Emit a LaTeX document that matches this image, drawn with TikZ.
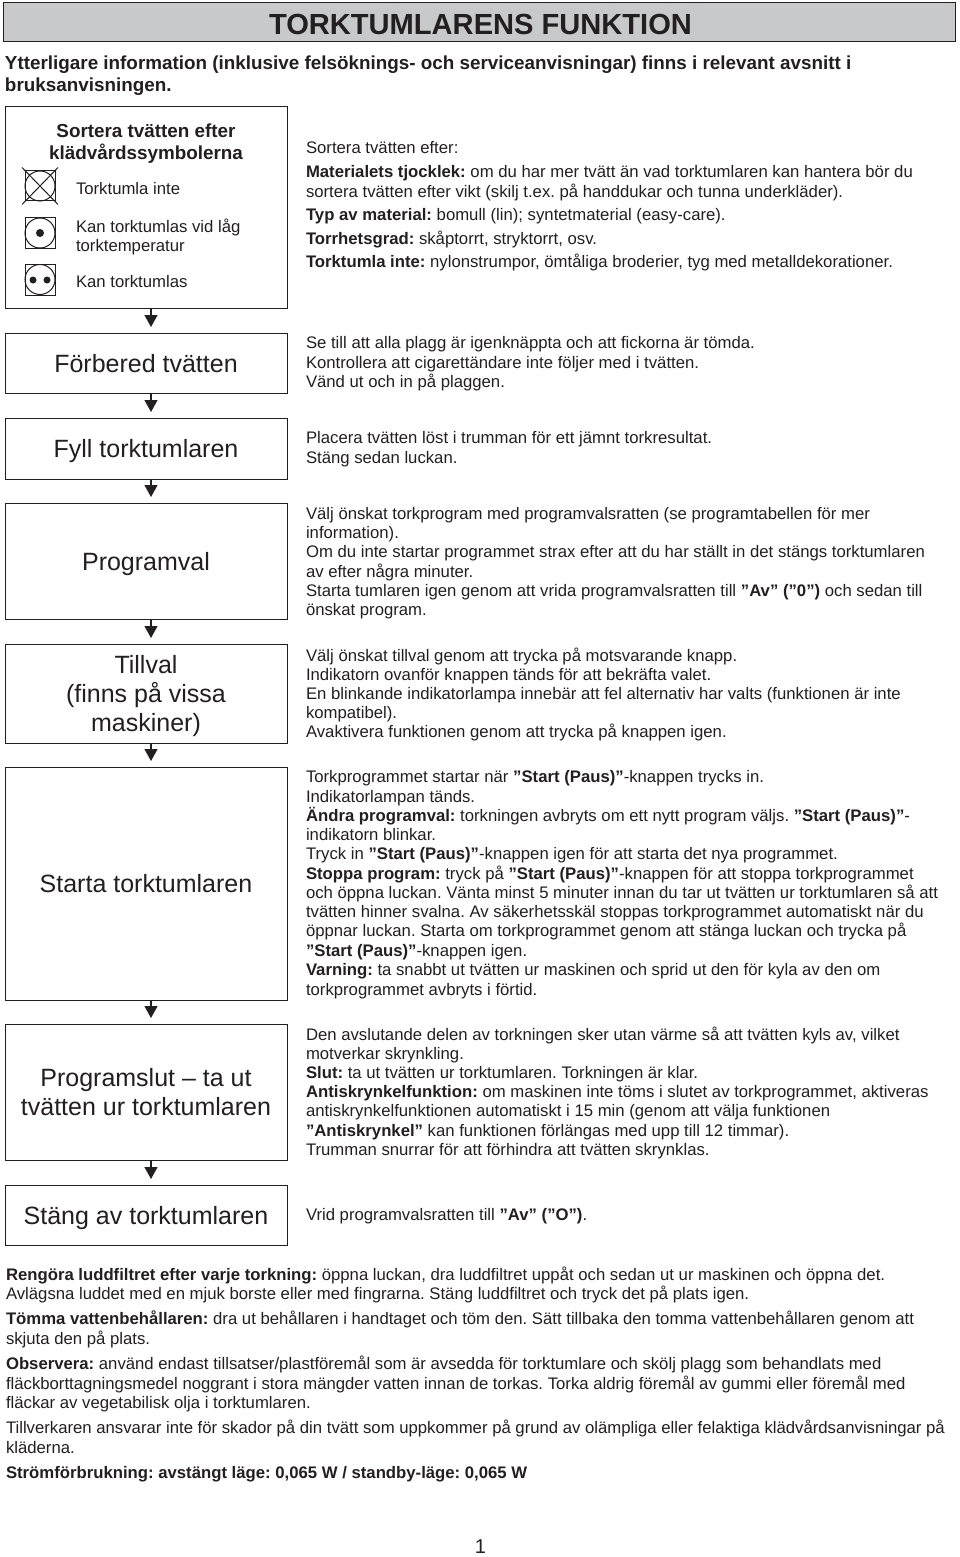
\documentclass[tikz,border=0pt]{standalone}
\usepackage{fontspec}
\setmainfont{Liberation Sans}
\usetikzlibrary{arrows.meta}
\frenchspacing
\definecolor{ink}{HTML}{231F20}
\definecolor{titlegray}{HTML}{C8C9CA}
\newcommand{\fsb}{\fontsize{16.72}{19}\selectfont}
\newcommand{\fsbox}{\fontsize{25}{29}\selectfont}
\newcommand{\fsh}{\bfseries\fontsize{18.85}{22}\selectfont}
\tikzset{
  x=1pt,y=-1pt,
  every node/.style={text=ink,inner sep=0pt,outer sep=0pt},
  line/.style={anchor=base west,font=\fsb},
  intro/.style={anchor=base west,font=\fsh},
  flowbox/.style={draw=ink,line width=1pt,minimum width=282pt,anchor=north west},
  flowtext/.style={anchor=base,font=\fsbox},
  flow/.style={draw=ink,line width=1.2pt,-{Triangle[length=12pt,width=13pt]},shorten >=6pt},
  sym/.style={draw=ink,line width=1pt},
}
\newcommand{\boxh}[3]{\node[flowbox,minimum height=#3pt] (#1) at (5,#2) {};}
\newcommand{\BT}[3]{\node[flowtext] (#1) at (146,#2) {#3};}
\newcommand{\TL}[4]{\node[line] (#1) at (#2,#3) {#4};}
\begin{document}
\begin{tikzpicture}
\useasboundingbox (0,0) rectangle (960,1557);
\fill[white] (0,0) rectangle (960,1557);
\node[draw=ink,line width=1pt,fill=titlegray,minimum width=952pt,minimum height=39pt,anchor=north west] (title) at (3,3) {};
\node[anchor=base,font=\bfseries\fontsize{29.1}{30}\selectfont] (titletext) at (480.5,35) {TORKTUMLARENS FUNKTION};
\node[intro] (i1) at (5,69.5) {Ytterligare information (inklusive felsöknings- och serviceanvisningar) finns i relevant avsnitt i};
\node[intro] (i2) at (5,92) {bruksanvisningen.};

% flow boxes
\boxh{b1}{107}{201}
\node[anchor=base,font=\fsh] (h1) at (146,137.5) {Sortera tvätten efter};
\node[anchor=base,font=\fsh] (h2) at (146,159.5) {klädvårdssymbolerna};
\node[line] (s1) at (76,195) {Torktumla inte};
\node[line] (s2a) at (76,232) {Kan torktumlas vid låg};
\node[line] (s2b) at (76,251) {torktemperatur};
\node[line] (s3) at (76,287) {Kan torktumlas};
\boxh{b2}{333}{60}\BT{t2}{372}{Förbered tvätten}
\boxh{b3}{418}{61}\BT{t3}{457.5}{Fyll torktumlaren}
\boxh{b4}{503}{116}\BT{t4}{570.3}{Programval}
\boxh{b5}{644}{99}\BT{t5a}{673}{Tillval}\BT{t5b}{702}{(finns på vissa}\BT{t5c}{731}{maskiner)}
\boxh{b6}{767}{233}\BT{t6}{892.5}{Starta torktumlaren}
\boxh{b7}{1024}{136}\BT{t7a}{1086.5}{Programslut -- ta ut}\BT{t7b}{1115.5}{tvätten ur torktumlaren}
\boxh{b8}{1185}{60}\BT{t8}{1224.3}{Stäng av torktumlaren}
\foreach \a/\b in {b1/b2,b2/b3,b3/b4,b4/b5,b5/b6,b6/b7,b7/b8}
  \draw[flow] ([xshift=5pt]\a.south) -- ([xshift=5pt]\b.north);

% care symbols
\draw[sym] (25,171) rectangle (55,201);
\draw[sym] (40,186) circle (15);
\draw[sym] (22,167.5) -- (58,204.5);
\draw[sym] (22,204.5) -- (58,167.5);
\draw[sym] (25,217.5) rectangle (55,248);
\draw[sym] (40,233) circle (15);
\fill[ink] (40,233) circle (4);
\draw[sym] (25,264) rectangle (55,295);
\draw[sym] (40,279.5) circle (15);
\fill[ink] (33,280) circle (3.5);
\fill[ink] (47,280) circle (3.5);

% right column
\TL{a1}{306}{153.5}{Sortera tvätten efter:}
\TL{a2}{306}{177.5}{\textbf{Materialets tjocklek:} om du har mer tvätt än vad torktumlaren kan hantera bör du}
\TL{a3}{306}{197}{sortera tvätten efter vikt (skilj t.ex. på handdukar och tunna underkläder).}
\TL{a4}{306}{220.5}{\textbf{Typ av material:} bomull (lin); syntetmaterial (easy-care).}
\TL{a5}{306}{244}{\textbf{Torrhetsgrad:} skåptorrt, stryktorrt, osv.}
\TL{a6}{306}{267.5}{\textbf{Torktumla inte:} nylonstrumpor, ömtåliga broderier, tyg med metalldekorationer.}

\TL{c1}{306}{348.5}{Se till att alla plagg är igenknäppta och att fickorna är tömda.}
\TL{c2}{306}{368.5}{Kontrollera att cigarettändare inte följer med i tvätten.}
\TL{c3}{306}{387.5}{Vänd ut och in på plaggen.}

\TL{d1}{306}{443.5}{Placera tvätten löst i trumman för ett jämnt torkresultat.}
\TL{d2}{306}{463.5}{Stäng sedan luckan.}

\TL{e1}{306}{519}{Välj önskat torkprogram med programvalsratten (se programtabellen för mer}
\TL{e2}{306}{538.5}{information).}
\TL{e3}{306}{557.5}{Om du inte startar programmet strax efter att du har ställt in det stängs torktumlaren}
\TL{e4}{306}{577}{av efter några minuter.}
\TL{e5}{306}{596}{Starta tumlaren igen genom att vrida programvalsratten till \textbf{”Av” (”0”)} och sedan till}
\TL{e6}{306}{615.5}{önskat program.}

\TL{f1}{306}{661}{Välj önskat tillval genom att trycka på motsvarande knapp.}
\TL{f2}{306}{680}{Indikatorn ovanför knappen tänds för att bekräfta valet.}
\TL{f3}{306}{699.5}{En blinkande indikatorlampa innebär att fel alternativ har valts (funktionen är inte}
\TL{f4}{306}{718.5}{kompatibel).}
\TL{f5}{306}{737.5}{Avaktivera funktionen genom att trycka på knappen igen.}

\TL{g1}{306}{782.5}{Torkprogrammet startar när \textbf{”Start (Paus)”}-knappen trycks in.}
\TL{g2}{306}{802}{Indikatorlampan tänds.}
\TL{g3}{306}{821}{\textbf{Ändra programval:} torkningen avbryts om ett nytt program väljs. \textbf{”Start (Paus)”}-}
\TL{g4}{306}{840.5}{indikatorn blinkar.}
\TL{g5}{306}{859.5}{Tryck in \textbf{”Start (Paus)”}-knappen igen för att starta det nya programmet.}
\TL{g6}{306}{879}{\textbf{Stoppa program:} tryck på \textbf{”Start (Paus)”}-knappen för att stoppa torkprogrammet}
\TL{g7}{306}{898}{och öppna luckan. Vänta minst 5 minuter innan du tar ut tvätten ur torktumlaren så att}
\TL{g8}{306}{917.5}{tvätten hinner svalna. Av säkerhetsskäl stoppas torkprogrammet automatiskt när du}
\TL{g9}{306}{936.5}{öppnar luckan. Starta om torkprogrammet genom att stänga luckan och trycka på}
\TL{g10}{306}{956}{\textbf{”Start (Paus)”}-knappen igen.}
\TL{g11}{306}{975}{\textbf{Varning:} ta snabbt ut tvätten ur maskinen och sprid ut den för kyla av den om}
\TL{g12}{306}{995}{torkprogrammet avbryts i förtid.}

\TL{h3}{306}{1040}{Den avslutande delen av torkningen sker utan värme så att tvätten kyls av, vilket}
\TL{h4}{306}{1059}{motverkar skrynkling.}
\TL{h5}{306}{1078}{\textbf{Slut:} ta ut tvätten ur torktumlaren. Torkningen är klar.}
\TL{h6}{306}{1097.5}{\textbf{Antiskrynkelfunktion:} om maskinen inte töms i slutet av torkprogrammet, aktiveras}
\TL{h7}{306}{1116.5}{antiskrynkelfunktionen automatiskt i 15 min (genom att välja funktionen}
\TL{h8}{306}{1136}{\textbf{”Antiskrynkel”} kan funktionen förlängas med upp till 12 timmar).}
\TL{h9}{306}{1155}{Trumman snurrar för att förhindra att tvätten skrynklas.}

\TL{j1}{306}{1220.5}{Vrid programvalsratten till \textbf{”Av” (”O”)}.}

% bottom
\TL{k1}{6}{1280}{\textbf{Rengöra luddfiltret efter varje torkning:} öppna luckan, dra luddfiltret uppåt och sedan ut ur maskinen och öppna det.}
\TL{k2}{6}{1299}{Avlägsna luddet med en mjuk borste eller med fingrarna. Stäng luddfiltret och tryck det på plats igen.}
\TL{k3}{6}{1324.5}{\textbf{Tömma vattenbehållaren:} dra ut behållaren i handtaget och töm den. Sätt tillbaka den tomma vattenbehållaren genom att}
\TL{k4}{6}{1344}{skjuta den på plats.}
\TL{k5}{6}{1369.5}{\textbf{Observera:} använd endast tillsatser/plastföremål som är avsedda för torktumlare och skölj plagg som behandlats med}
\TL{k6}{6}{1389}{fläckborttagningsmedel noggrant i stora mängder vatten innan de torkas. Torka aldrig föremål av gummi eller föremål med}
\TL{k7}{6}{1408}{fläckar av vegetabilisk olja i torktumlaren.}
\TL{k8}{6}{1433.5}{Tillverkaren ansvarar inte för skador på din tvätt som uppkommer på grund av olämpliga eller felaktiga klädvårdsanvisningar på}
\TL{k9}{6}{1453}{kläderna.}
\TL{k10}{6}{1478}{\textbf{Strömförbrukning: avstängt läge: 0,065 W / standby-läge: 0,065 W}}
\node[anchor=base,font=\fontsize{20}{24}\selectfont] (pg) at (480.5,1553) {1};
\end{tikzpicture}
\end{document}
